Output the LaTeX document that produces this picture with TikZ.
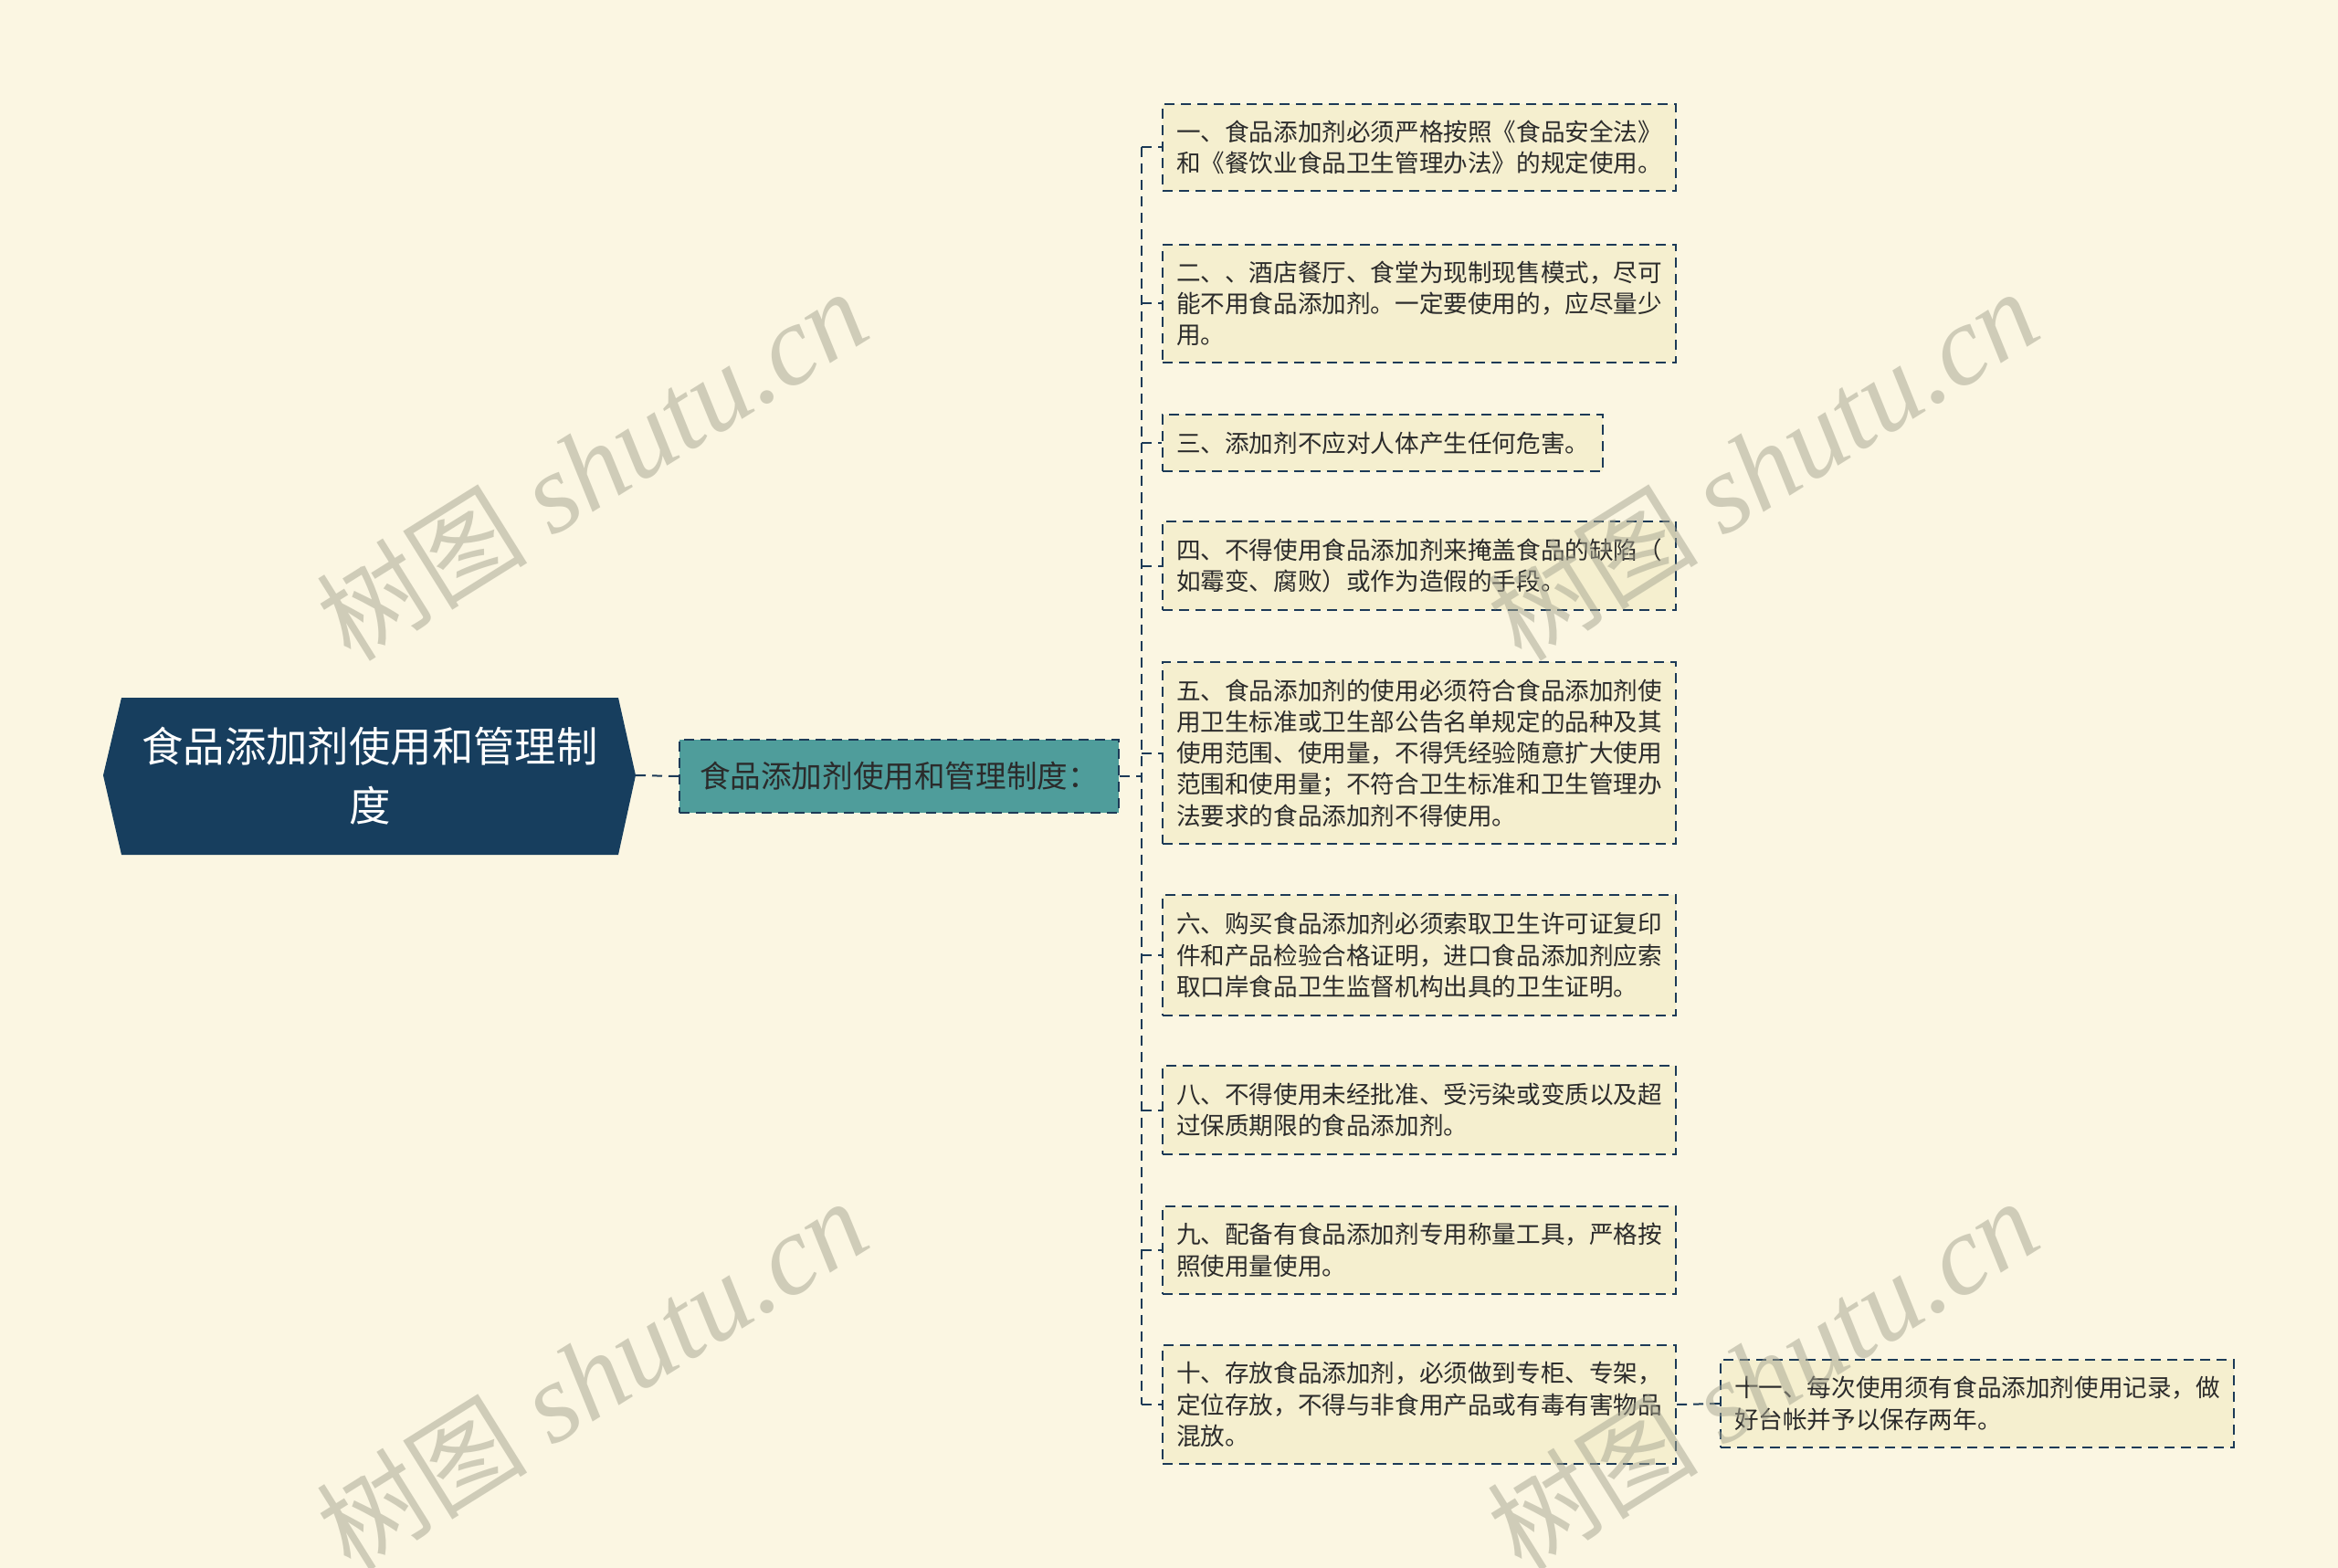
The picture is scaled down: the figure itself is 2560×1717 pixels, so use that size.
\documentclass[tikz,border=0pt]{standalone}
\usepackage{fontspec}
\newfontfamily\cjk{Noto Sans CJK SC}
\newfontfamily\wmserif{Liberation Serif}
\definecolor{bgc}{HTML}{FBF6E2}
\definecolor{navy}{HTML}{173E5E}
\definecolor{linec}{HTML}{1C3A57}
\definecolor{tealc}{HTML}{4F9D9B}
\definecolor{boxc}{HTML}{F5EFCF}
\definecolor{txtc}{HTML}{2B2B2B}
\definecolor{wmc}{HTML}{A5A490}
\tikzset{
  dline/.style={draw=linec, line width=1pt, dash pattern=on 5.5pt off 3.5pt},
  conn/.style={dline},
  leafbox/.style={dline, fill=boxc, text=txtc, align=left, text width=266pt,
    inner xsep=7.5pt, inner ysep=0pt,
    font=\cjk\fontsize{13.3}{17.15}\selectfont},
  wm/.style={text=wmc, opacity=0.5, rotate=32, inner sep=0pt}
}
\begin{document}
\begin{tikzpicture}[x=0.5pt,y=-0.5pt]
\fill[bgc] (0,0) rectangle (2560,1717);
\useasboundingbox (0,0) rectangle (2560,1717);

% root
\fill[navy] (113,849) -- (133,764) -- (677,764) -- (696,849) -- (677,936) -- (133,936) -- cycle;
\node[text=white, align=center, font=\cjk\fontsize{22.7}{32.5}\selectfont] (root) at (405,850) {食品添加剂使用和管理制\\度};
\coordinate (rootR) at (696,849);

% second level
\node[dline, fill=tealc, text=txtc, minimum width=240.5pt, minimum height=40pt, inner sep=0pt,
  font=\cjk\fontsize{16.8}{20}\selectfont] (sec) at (984.5,850) {食品添加剂使用和管理制度：};

\coordinate (busx) at (1250,850);

% leaves
\node[leafbox, minimum height=47.5pt] (c1) at (1554,161.5) {一、食品添加剂必须严格按照《食品安全法》\\和《餐饮业食品卫生管理办法》的规定使用。};
\node[leafbox, minimum height=64.5pt] (c2) at (1554,332.5) {二、、酒店餐厅、食堂为现制现售模式，尽可\\能不用食品添加剂。一定要使用的，应尽量少\\用。};
\node[leafbox, text width=226pt, minimum height=31pt] (c3) at (1514,485) {三、添加剂不应对人体产生任何危害。};
\node[leafbox, minimum height=48.5pt] (c4) at (1554,619.5) {四、不得使用食品添加剂来掩盖食品的缺陷（\\如霉变、腐败）或作为造假的手段。};
\node[leafbox, minimum height=99.5pt] (c5) at (1554,824.5) {五、食品添加剂的使用必须符合食品添加剂使\\用卫生标准或卫生部公告名单规定的品种及其\\使用范围、使用量，不得凭经验随意扩大使用\\范围和使用量；不符合卫生标准和卫生管理办\\法要求的食品添加剂不得使用。};
\node[leafbox, minimum height=66pt] (c6) at (1554,1046) {六、购买食品添加剂必须索取卫生许可证复印\\件和产品检验合格证明，进口食品添加剂应索\\取口岸食品卫生监督机构出具的卫生证明。};
\node[leafbox, minimum height=48.5pt] (c8) at (1554,1215.5) {八、不得使用未经批准、受污染或变质以及超\\过保质期限的食品添加剂。};
\node[leafbox, minimum height=48pt] (c9) at (1554,1369) {九、配备有食品添加剂专用称量工具，严格按\\照使用量使用。};
\node[leafbox, minimum height=65pt] (c10) at (1554,1538) {十、存放食品添加剂，必须做到专柜、专架，\\定位存放，不得与非食用产品或有毒有害物品\\混放。};
\node[leafbox, minimum height=48pt] (c11) at (2165,1537) {十一、每次使用须有食品添加剂使用记录，做\\好台帐并予以保存两年。};

% connectors
\draw[conn] (rootR) -- (sec.west);
\draw[conn] (sec.east) -- (busx);
\draw[conn] (c1.west -| busx) -- (c10.west -| busx);
\foreach \c in {c1,c2,c3,c4,c5,c6,c8,c9,c10}{
  \draw[conn] (\c.west -| busx) -- (\c.west);
}
\draw[conn] (c10.east) -- (c11.west);

% watermarks
\foreach \p in {(648,510),(1930,510),(648,1506),(1930,1506)}{
  \node[wm] at \p {\cjk\fontsize{58}{60}\selectfont 树图\hspace{14pt}\wmserif\itshape\fontsize{62}{64}\selectfont shutu.cn};
}
\end{tikzpicture}
\end{document}
